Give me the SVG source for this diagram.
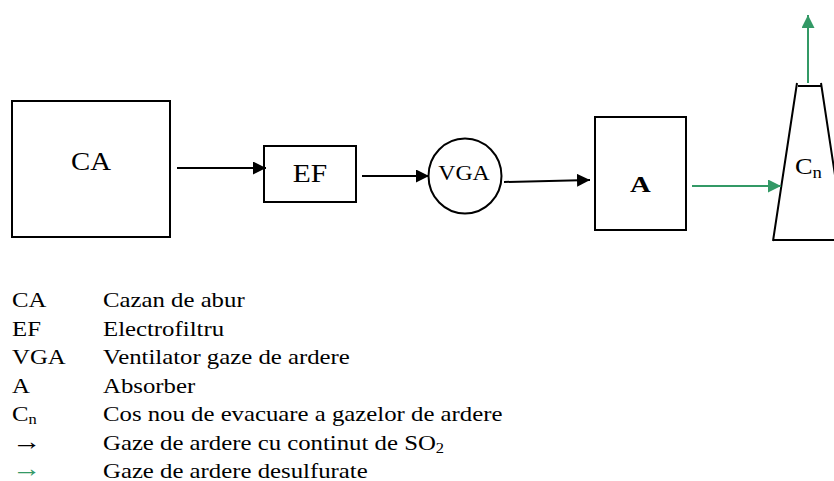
<svg xmlns="http://www.w3.org/2000/svg" width="834" height="481" viewBox="0 0 834 481">
<defs>
<style>
.box{fill:#fff;stroke:#000;stroke-width:2}
.ln{fill:none;stroke:#000;stroke-width:2}
.gl{fill:none;stroke:#339966;stroke-width:2}
text{font-family:'Liberation Serif','Times New Roman',serif;fill:#000}
.g{fill:#339966}
.arr{font-size:25px}
</style>
<marker id="ab" viewBox="0 0 13 13" refX="13" refY="6.5" markerWidth="13" markerHeight="13" markerUnits="userSpaceOnUse" orient="auto"><path d="M0,0 L13,6.5 L0,13 Z" fill="#000"/></marker>
<marker id="ag" viewBox="0 0 13 13" refX="13" refY="6.5" markerWidth="13" markerHeight="13" markerUnits="userSpaceOnUse" orient="auto"><path d="M0,0 L13,6.5 L0,13 Z" fill="#339966"/></marker>
</defs>
<g id="CA"><rect class="box" x="12" y="101" width="158" height="136"/><text font-size="25" text-anchor="middle" transform="translate(91,170) scale(1.15,1)">CA</text></g>
<g id="EF"><rect class="box" x="264" y="146" width="92" height="56"/><text font-size="25" text-anchor="middle" transform="translate(310,182) scale(1.18,1)">EF</text></g>
<g id="VGA"><ellipse class="box" cx="465" cy="176" rx="36.5" ry="37.5"/><text font-size="22" text-anchor="middle" transform="translate(464,180) scale(1.08,1)">VGA</text></g>
<g id="A"><rect class="box" x="595" y="117" width="91" height="113"/><text font-size="24" font-weight="bold" text-anchor="middle" transform="translate(640.5,192) scale(1.2,1)">A</text></g>
<g id="Cn"><path class="ln" d="M797,83 L773,241 M821,83 L845,241 M798,86 L821,86 M773,240 L834,240"/><text font-size="24" transform="translate(795,174) scale(1.1,1)">C<tspan font-size="17" dy="4">n</tspan></text></g>
<g id="connectors">
<line class="ln" x1="177" y1="168" x2="266" y2="168" marker-end="url(#ab)"/>
<line class="ln" x1="362" y1="176" x2="429" y2="176" marker-end="url(#ab)"/>
<line class="ln" x1="504" y1="182" x2="590" y2="180" marker-end="url(#ab)"/>
<line class="gl" x1="692" y1="186" x2="781" y2="186" marker-end="url(#ag)"/>
<line class="gl" x1="808" y1="83" x2="808" y2="15" marker-end="url(#ag)"/>
</g>
<g id="legend" font-size="21" transform="scale(1.18,1)">
<text x="10.2" y="307.5">CA</text><text x="87.3" y="307.5">Cazan de abur</text>
<text x="10.2" y="336">EF</text><text x="87.3" y="336">Electrofiltru</text>
<text x="10.2" y="364.5">VGA</text><text x="87.3" y="364.5">Ventilator gaze de ardere</text>
<text x="10.2" y="393">A</text><text x="87.3" y="393">Absorber</text>
<text x="10.2" y="421.5">C<tspan font-size="14" dy="3">n</tspan></text><text x="87.3" y="421.5">Cos nou de evacuare a gazelor de ardere</text>
<text x="10.2" y="450" class="arr">→</text><text x="87.3" y="450">Gaze de ardere cu continut de SO<tspan font-size="14" dy="3">2</tspan></text>
<text x="10.2" y="477" class="arr g">→</text><text x="87.3" y="478">Gaze de ardere desulfurate</text>
</g>
</svg>
